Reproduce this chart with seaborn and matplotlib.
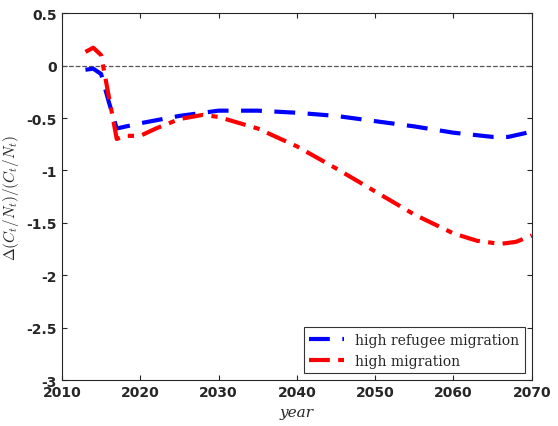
import matplotlib
matplotlib.use("Agg")
import matplotlib.pyplot as plt
import seaborn as sns
import pandas as pd

sns.set_style("ticks")
plt.rcParams['mathtext.fontset'] = 'cm'

years_b = [2013, 2014, 2015, 2016, 2017, 2020, 2025, 2030, 2035, 2040, 2045, 2050, 2055, 2060, 2065, 2067, 2070]
refugee = [-0.04, -0.03, -0.08, -0.35, -0.6, -0.55, -0.48, -0.43, -0.43, -0.45, -0.48, -0.53, -0.58, -0.64, -0.68, -0.68, -0.63]
years_r = [2013, 2014, 2015, 2016, 2017, 2018, 2020, 2022, 2025, 2028, 2030, 2035, 2040, 2045, 2050, 2055, 2060, 2063, 2066, 2068, 2070]
migration = [0.13, 0.17, 0.1, -0.3, -0.7, -0.67, -0.67, -0.6, -0.51, -0.47, -0.49, -0.6, -0.77, -0.98, -1.2, -1.42, -1.6, -1.67, -1.70, -1.68, -1.62]

fig, ax = plt.subplots(figsize=(5.58, 4.27), dpi=100)
fig.subplots_adjust(left=0.111, right=0.953, top=0.967, bottom=0.107)
ax.axhline(0, color='#555555', lw=0.9, ls='--')
sns.lineplot(x=years_b, y=refugee, ax=ax, color='#0000ff', lw=3, label='high refugee migration')
ax.lines[-1].set_dashes([5, 3])
sns.lineplot(x=years_r, y=migration, ax=ax, color='#ff0000', lw=3, label='high migration')
ax.lines[-1].set_dashes([5, 2, 1.5, 2])
ax.set_xlim(2010, 2070)
ax.set_ylim(-3, 0.5)
ax.set_xticks(range(2010, 2071, 10))
ax.set_yticks([0.5, 0, -0.5, -1, -1.5, -2, -2.5, -3])
ax.set_yticklabels(['0.5', '0', '-0.5', '-1', '-1.5', '-2', '-2.5', '-3'])
ax.tick_params(direction='in', top=True, right=True, labelsize=10)
for t in ax.get_xticklabels() + ax.get_yticklabels():
    t.set_fontweight('bold')
ax.set_xlabel('year', fontstyle='italic', family='serif', fontsize=11)
ax.set_ylabel(r'$\Delta(C_t/N_t)/(C_t/N_t)$', fontsize=11)
leg = ax.legend(loc='lower right', prop={'family': 'serif', 'size': 10}, fancybox=False, edgecolor='black', handlelength=2.5)
leg.get_frame().set_linewidth(0.8)
fig.savefig('out.png')
